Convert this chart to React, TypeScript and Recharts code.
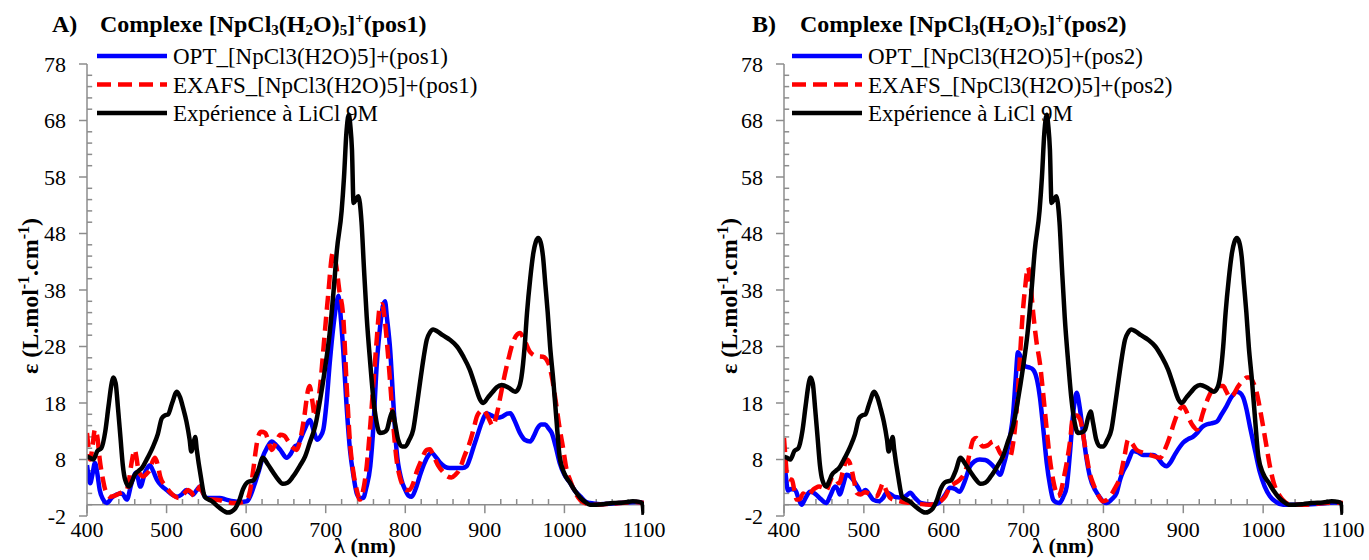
import React from 'react';
import { LineChart, Line, XAxis, YAxis, ReferenceLine } from 'recharts';

const FONT = "'Liberation Serif', 'Times New Roman', serif";
const AXIS = '#8c8c8c';

const X_TICKS = [400, 500, 600, 700, 800, 900, 1000, 1100];
const X_MINOR = [420, 440, 460, 480, 520, 540, 560, 580, 620, 640, 660, 680, 720, 740, 760, 780, 820, 840, 860, 880, 920, 940, 960, 980, 1020, 1040, 1060, 1080];
const Y_TICKS = [-2, 8, 18, 28, 38, 48, 58, 68, 78];
const Y_MINOR = [0, 2, 4, 6, 10, 12, 14, 16, 20, 22, 24, 26, 30, 32, 34, 36, 40, 42, 44, 46, 50, 52, 54, 56, 60, 62, 64, 66, 70, 72, 74, 76];

type P = [number, number];

// Experimental spectrum, LiCl 9M (same in both panels)
const EXP: P[] = [[400,8.5],[404,8.3],[408,8],[413,9.5],[418,10],[423,13],[427,17.4],[431,21.5],[433,22.5],[436,21.5],[439,17],[442,12],[445,7],[448,4.4],[453,3.2],[457,4.3],[460,5.3],[465,6],[469,6.5],[475,8],[483,10.3],[489,12.5],[494,15.3],[498,15.8],[502,16],[507,18],[513,20],[517,19],[521,17],[525,14.7],[529,11.5],[531,9.4],[534,11],[536,12],[538,9.7],[543,5],[548,1.4],[557,0.6],[567,-0.6],[577,-1.4],[586,-0.7],[592,1],[596,2.7],[602,4],[609,4.3],[615,6],[621,8.3],[627,7.2],[634,5.7],[640,4.5],[646,3.7],[652,3.9],[659,5],[668,7],[674,8.5],[680,11],[687,14],[693,18.6],[699,24],[705,30.4],[710,38],[714,45],[720,52],[723,58],[726,65.8],[729,69],[731,67],[733,62.8],[735,53.4],[738,54],[741,54.6],[745,50],[748,42],[751.5,33.3],[756,25],[760,18.6],[764,14.5],[768,12.7],[773,12.8],[777,13.3],[781,15.5],[784,16.5],[787,14.5],[791,11.5],[796,10.3],[800,10.3],[805,11.5],[810,13.3],[814,17],[818.5,21.6],[823,26],[827,29.2],[831,30.5],[835,31],[840,30.7],[847,30],[856,29.2],[865,28],[873,26.2],[881,23.9],[888,21],[894,18.6],[898,18],[904,19],[910,20],[915,20.8],[921,21.2],[930,20.7],[938,20],[942,20.5],[946,22.6],[950,28],[953,34],[957,40],[961,44.6],[964,46.5],[967,47.2],[970,46.5],[973,44],[976,39],[979,34],[982,28],[986,22],[990,15],[994,8.5],[1000,5.5],[1007,3.9],[1013,2.5],[1020,1.2],[1026,0.5],[1032,0],[1040,0],[1050,0.1],[1061,0.3],[1075,0.4],[1086,0.6],[1094,0.5],[1098,0.2],[1099.5,-1.8]];

// Panel A: OPT_[NpCl3(H2O)5]+(pos1)
const OPT1: P[] = [[400,7],[402,5],[404,3.8],[407,5.5],[410,7.4],[413,5.5],[416,2.6],[420,1],[425,0.3],[431,1.2],[437,1.8],[444,2],[450,0.9],[456,3.8],[462,5.7],[467,3.2],[473,5.7],[479,7],[483,6],[488,4.4],[494,3.3],[500,2.6],[507,1.8],[513,1.4],[519,1.8],[525,2.6],[529,2.2],[533,1.8],[538,2.6],[542,3.2],[546,2],[550,1.2],[558,1.2],[567,1.2],[575,0.9],[584,0.6],[593,0.5],[601,0.6],[606,1.8],[611,3.8],[616,6],[621,8.5],[626,10],[632,11.2],[638,10.5],[643,9.7],[651,8.3],[656,9],[661,10.3],[665,10.6],[668,11.5],[674,13.5],[680,15],[685,13],[689,11.5],[693,12],[697,13.3],[701,18],[705,25],[710,32],[714,36],[716,37],[719,33],[722,27.4],[726,18],[730.5,9.7],[735,5],[739,2],[743,1.2],[747,1.2],[751,3],[756,6.8],[760,14],[764,24.5],[768,31],[771,34.5],[774.5,36],[777,33],[781,27.4],[785,18],[789,9.7],[795,4.5],[800,2.6],[804,1.6],[808,1.4],[813,2.8],[818,5],[823,7],[828,8.5],[833,9.2],[838,8.5],[844,7.4],[850,6.7],[856,6.5],[866,6.5],[872,6.5],[877,6.8],[882,8.5],[886,10.3],[890,12],[896,14.5],[902,16.2],[908,15.8],[915,15.4],[922,15.6],[928,16.1],[932,16.2],[937,15],[944,12.7],[950,11.5],[957,11.2],[962,12.3],[966,13.5],[971,14.2],[976,14.2],[980,13.5],[984,12.7],[989,10.3],[994,7.4],[1000,5.3],[1007,3.9],[1013,2.5],[1020,1.5],[1026,0.6],[1032,0.3],[1045,0.1],[1060,0.2],[1080,0.4],[1090,0.5],[1100,0.3]];

// Panel A: EXAFS_[NpCl3(H2O)5]+(pos1)
const EXAFS1: P[] = [[400,12.7],[402,10],[404,8],[407,10.5],[410,13.3],[413,12],[416,8],[420,4.5],[423,2.6],[429,1.4],[435,1.6],[441,2],[446,2.3],[450,2.6],[453,4.5],[456,7.4],[460,9.7],[462,8.5],[464.5,6.2],[468,5.2],[471,5],[475,5.5],[479,6.2],[482,7.5],[485.5,8.3],[489,7],[492,5],[498,3.4],[504,2.3],[510,1.5],[515,1.2],[521,1.8],[527,2.6],[531,2.2],[535,1.5],[539,2.5],[542,3.2],[546,2],[550,1],[558,0.9],[567,0.8],[575,0.5],[584,0.3],[593,0.4],[601,0.8],[605,2.5],[609,6.2],[612,9.5],[615,12],[619,12.9],[624,12.7],[628,11.2],[632,9.7],[637,10.8],[643,12.4],[648,12.2],[653,11.2],[658,10.2],[663.5,9.7],[668,11.5],[673,15.5],[678,20.4],[680,21],[683,18.5],[686.5,15.6],[689,17],[693,21],[697,27.4],[703,37],[709,44.6],[713,42.5],[717,38],[722,33.3],[726,22],[730,12],[735,5.5],[739,2.6],[743,0.9],[747,2.5],[751.5,6.8],[756,14],[760,21.6],[764,29],[768,35],[771,35.5],[774,33],[778,27],[781,21.6],[785,14],[789,8],[793,5],[797.5,3.2],[801,2.6],[805,2.6],[810,3.8],[814,5.7],[820,7.8],[827,9.7],[831,9.8],[835,8.8],[841,7],[848,5.7],[853,5],[858,4.8],[863,5.3],[868,6.2],[874,8.5],[881,11],[886,13.5],[890,15.6],[894,16.5],[898,16.8],[904,15.5],[910,14],[915,16],[920,19.5],[925,23],[930,26],[936,29],[941,30.2],[944,30.4],[950,29],[957,27],[965,26.3],[973,26.2],[980,25],[985,22],[990,17.4],[994,13.5],[998,10.3],[1003,6],[1007,4.4],[1013,2.3],[1020,0.8],[1030,0.1],[1040,0],[1060,0.2],[1080,0.4],[1090,0.5],[1100,0.3]];

// Panel B: OPT_[NpCl3(H2O)5]+(pos2)
const OPT2: P[] = [[400,8.5],[402,5.5],[405,2.5],[409,2.8],[414,2.6],[418,1.2],[422,0],[427,1.2],[432.5,2.3],[436,2.2],[440,1.8],[446,1],[453,0.3],[458,1.6],[464,3.2],[467,2.8],[470,1.8],[474,3.5],[478.5,5.3],[483,5],[488,4.1],[493,3],[497,2.1],[502,2.6],[507,1.8],[511.5,0.9],[519,0.6],[524,1.2],[528.5,2.1],[533,1.9],[537,1.5],[543,1.3],[549,1.2],[554,1.7],[558,2.1],[564,1.2],[571,0.3],[580,0.1],[588,0],[596,0.6],[602,1.8],[608,3],[614,2.8],[620,2.3],[626,4],[633,6.8],[639,7.7],[645,8],[652,7.9],[658,7.4],[664,6.5],[670.5,5.3],[675,7],[679,9.2],[683,12],[687,16.2],[690,22],[693,27],[697,26],[702,24.5],[707,24.3],[712,23.9],[717,22],[720.5,19],[725,13],[729,7.4],[733,3.5],[737,0.9],[741,0.4],[745,0.3],[750,1.5],[754,3.2],[758,9],[762,16],[766.5,19.8],[770,17.5],[774.5,12.7],[779,8],[783,5],[790,2.5],[796,1.2],[800,0.5],[804,0.3],[810,0.9],[816.5,2.1],[821,4.5],[825,6],[829,7],[833,8.4],[837,9.5],[843,9.3],[849.5,8.8],[856,8.8],[862,8.8],[868,8.3],[874,7.2],[879,6.8],[884,7.5],[890,9],[896,10.3],[900,11],[906,11.6],[912,12],[918,12.8],[924,13.8],[929,14.2],[935,14.4],[942,14.7],[948,16],[954,17.4],[960,19],[967,20],[971,19.8],[975,19],[979,17],[983.5,13.8],[990,9.5],[996,5.7],[1002,3.2],[1008.5,1.5],[1015,0.6],[1025,0],[1040,0],[1060,0.1],[1080,0.3],[1090,0.4],[1100,0.2]];

// Panel B: EXAFS_[NpCl3(H2O)5]+(pos2)
const EXAFS2: P[] = [[400,11.8],[402,8],[404,5],[407,4.5],[410,4.4],[413,2.5],[416,0.9],[420,1],[424,2],[428,1.6],[432,1.8],[436,2.6],[440,3],[444,3.2],[449,3],[453,2.5],[457,3.8],[461,5],[465,4.5],[469,3.8],[474,6],[478.5,8],[482,7.5],[485,6],[488,4],[491,2.1],[496,1.8],[501,2.2],[506,2],[511,1.6],[516,1.5],[520,2.5],[524,3.8],[528,2.5],[533,1.2],[539,0.8],[545,0.6],[553,0.4],[562,0.3],[572,0.1],[583,0],[590,0.2],[596,0.6],[602,1.5],[608,3.2],[614,3.8],[620,4.4],[625,5.3],[629,6.8],[633,9.5],[637,11.5],[641,11.8],[645,11],[649,10.3],[655,10.5],[662,11.2],[666,10.5],[670.5,9.2],[676,8.5],[683,8.5],[687,11],[691,16.2],[695,25],[699,34],[702,38.5],[705.5,42],[708,40],[712,34],[716,29],[720.5,25],[725,19],[729,13.3],[733,8],[737,4.4],[740,2.5],[743,1.5],[747,2.5],[750,4.5],[754,7.4],[758,11],[762,15.6],[766.5,15.8],[771,15],[775,12],[779,8.5],[783,5.5],[787,3.8],[793,1.8],[799.5,0.6],[804,0.8],[808,1.4],[814,2.8],[821,5],[826,8.3],[831,11.5],[836,10.8],[841.5,9.7],[850,9.2],[858,8.8],[865,8.5],[871,8.3],[877,9.8],[883,12],[888,14.3],[893,16.2],[897,17.2],[900,17.4],[904,16.5],[908,15],[913,13.8],[917,13.3],[921,14.5],[924.5,16.2],[930,18.5],[937,20.4],[943,21],[950,21],[954,20],[958.5,19],[963,19.5],[968,20.8],[975,22],[980,22.5],[983.5,22.5],[988,21.5],[992,19.8],[996,17],[1000,13.8],[1004,10.5],[1008.5,6.8],[1013,4],[1021,1.5],[1028,0.4],[1035,0],[1050,0],[1070,0.2],[1090,0.4],[1100,0.3]];

const toRows = (pts: P[]) => pts.map(([x, y]) => ({ x, y }));

type PanelProps = {
  left: number;
  width: number;
  rightMargin: number;
  opt: P[];
  exafs: P[];
};

function Panel({ left, width, rightMargin, opt, exafs }: PanelProps) {
  return (
    <div style={{ position: 'absolute', left, top: 0 }}>
      <LineChart width={width} height={560} margin={{ top: 64, right: rightMargin, bottom: 14, left: 27 }}>
        <XAxis
          dataKey="x"
          type="number"
          domain={[400, 1100]}
          ticks={X_TICKS}
          allowDataOverflow
          axisLine={false}
          tickLine={false}
          tickSize={0}
          tickMargin={5}
          height={30}
          tick={{ fontSize: 22, fill: '#000', fontFamily: FONT }}
        />
        <YAxis
          type="number"
          domain={[-2, 78]}
          ticks={Y_TICKS}
          allowDataOverflow
          width={60}
          axisLine={{ stroke: AXIS, strokeWidth: 1.5 }}
          tickLine={{ stroke: AXIS, strokeWidth: 1.5 }}
          tickSize={8}
          tickMargin={13}
          tick={{ fontSize: 22, fill: '#000', fontFamily: FONT }}
        />
        <ReferenceLine y={0} stroke={AXIS} strokeWidth={1.5} />
        {X_TICKS.map((t) => (
          <ReferenceLine key={'xm' + t} segment={[{ x: t, y: 0 }, { x: t, y: -1.5 }]} stroke={AXIS} strokeWidth={1.5} ifOverflow="visible" />
        ))}
        {X_MINOR.map((t) => (
          <ReferenceLine key={'xn' + t} segment={[{ x: t, y: 0 }, { x: t, y: 1 }]} stroke={AXIS} strokeWidth={1.5} ifOverflow="visible" />
        ))}
        {Y_MINOR.map((t) => (
          <ReferenceLine key={'yn' + t} segment={[{ x: 400, y: t }, { x: 406.5, y: t }]} stroke={AXIS} strokeWidth={1.5} ifOverflow="visible" />
        ))}
        <Line data={toRows(opt)} dataKey="y" type="monotone" stroke="#0000ff" strokeWidth={4.5} dot={false} activeDot={false} isAnimationActive={false} />
        <Line data={toRows(exafs)} dataKey="y" type="monotone" stroke="#ff0000" strokeWidth={4.5} strokeDasharray="14 7" dot={false} activeDot={false} isAnimationActive={false} />
        <Line data={toRows(EXP)} dataKey="y" type="monotone" stroke="#000000" strokeWidth={4.5} dot={false} activeDot={false} isAnimationActive={false} />
      </LineChart>
    </div>
  );
}

function Title({ x, tag, pos }: { x: number; tag: string; pos: string }) {
  return (
    <g style={{ fontFamily: FONT }} fontWeight="bold" fill="#000">
      <text x={x} y={32} fontSize={24}>{tag}</text>
      <text x={x + 48} y={32} fontSize={24}>
        Complexe [NpCl<tspan fontSize={15} dy={3}>3</tspan>
        <tspan dy={-3}>(H</tspan><tspan fontSize={15} dy={3}>2</tspan>
        <tspan dy={-3}>O)</tspan><tspan fontSize={15} dy={3}>5</tspan>
        <tspan dy={-3}>]</tspan><tspan fontSize={15} dy={-9}>+</tspan>
        <tspan dy={9}>({pos})</tspan>
      </text>
    </g>
  );
}

function LegendBlock({ x, pos }: { x: number; pos: string }) {
  const rows = [
    { label: `OPT_[NpCl3(H2O)5]+(${pos})`, color: '#0000ff', dash: undefined as string | undefined },
    { label: `EXAFS_[NpCl3(H2O)5]+(${pos})`, color: '#ff0000', dash: '14 7' },
    { label: 'Expérience à LiCl 9M', color: '#000000', dash: undefined },
  ];
  return (
    <g style={{ fontFamily: FONT }}>
      {rows.map((r, i) => {
        const y = 56 + i * 28.5;
        return (
          <g key={r.label}>
            <line x1={x} x2={x + 70} y1={y} y2={y} stroke={r.color} strokeWidth={4.5} strokeDasharray={r.dash} />
            <text x={x + 76} y={y + 8} fontSize={23} fill="#000">{r.label}</text>
          </g>
        );
      })}
    </g>
  );
}

function YLabel({ x }: { x: number }) {
  return (
    <text transform={`translate(${x},296) rotate(-90)`} textAnchor="middle" style={{ fontFamily: FONT }} fontWeight="bold" fontSize={24} fill="#000">
      ε (L.mol<tspan fontSize={16} dy={-9}>-1</tspan><tspan dy={9}>.cm</tspan><tspan fontSize={16} dy={-9}>-1</tspan><tspan dy={9}>)</tspan>
    </text>
  );
}

export default function App() {
  return (
    <div style={{ position: 'absolute', left: 0, top: 0, width: 1369, height: 560, background: '#fff', overflow: 'hidden' }}>
      <Panel left={0} width={690} rightMargin={46} opt={OPT1} exafs={EXAFS1} />
      <Panel left={697} width={672} rightMargin={26} opt={OPT2} exafs={EXAFS2} />
      <svg width={1369} height={560} style={{ position: 'absolute', left: 0, top: 0, pointerEvents: 'none' }}>
        <Title x={52} tag="A)" pos="pos1" />
        <Title x={752} tag="B)" pos="pos2" />
        <LegendBlock x={97} pos="pos1" />
        <LegendBlock x={792} pos="pos2" />
        <YLabel x={38} />
        <YLabel x={737} />
        <text x={365} y={553} textAnchor="middle" style={{ fontFamily: FONT }} fontWeight="bold" fontSize={22} fill="#000">λ (nm)</text>
        <text x={1063} y={553} textAnchor="middle" style={{ fontFamily: FONT }} fontWeight="bold" fontSize={22} fill="#000">λ (nm)</text>
      </svg>
    </div>
  );
}
